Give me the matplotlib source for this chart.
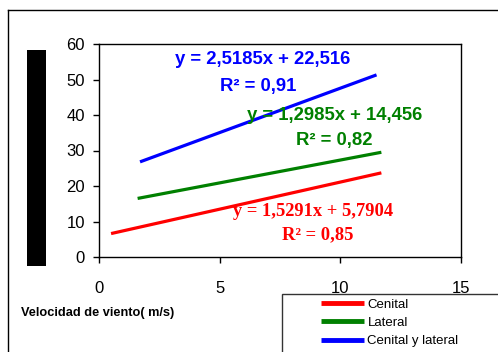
import matplotlib
matplotlib.use("Agg")
import matplotlib.pyplot as plt
from matplotlib.patches import Rectangle
from matplotlib.lines import Line2D

# Data (trend-line end points)
series = ["Cenital", "Lateral", "Cenital y lateral"]
colors = ["#ff0000", "#008000", "#0000ff"]
cenital_x = [0.5, 11.7]
cenital_y = [6.6, 23.7]
lateral_x = [1.6, 11.7]
lateral_y = [16.5, 29.5]
ambos_x = [1.7, 11.5]
ambos_y = [26.8, 51.3]
xticks = [0, 5, 10, 15]
yticks = [0, 10, 20, 30, 40, 50, 60]

eq_texts = ["y = 1,5291x + 5,7904", "y = 1,2985x + 14,456", "y = 2,5185x + 22,516"]
r2_texts = ["R² = 0,85", "R² = 0,82", "R² = 0,91"]

W, H = 498, 352
fig = plt.figure(figsize=(W / 100, H / 100), dpi=100)
fig.patch.set_facecolor("white")

def fx(px):
    return px / W

def fy(py):
    return 1 - py / H

ax = fig.add_axes([fx(99), fy(257), fx(461) - fx(99), fy(44) - fy(257)])
ax.set_xlim(0, 15)
ax.set_ylim(0, 60)
ax.set_xticks(xticks)
ax.set_yticks(yticks)
ax.tick_params(axis="both", direction="out", length=4, width=1, labelsize=12,
               colors="black")
ax.tick_params(axis="x", pad=13)
ax.tick_params(axis="y", pad=6)
for lab in ax.get_xticklabels() + ax.get_yticklabels():
    lab.set_family("Liberation Sans")
for s in ax.spines.values():
    s.set_linewidth(1)
    s.set_color("black")

xs = [cenital_x, lateral_x, ambos_x]
ys = [cenital_y, lateral_y, ambos_y]
handles = []
for name, c, x, y in zip(series, colors, xs, ys):
    h, = ax.plot(x, y, color=c, lw=2.3, label=name, solid_capstyle="butt")
    handles.append(h)

fs = 13.3
# Equation annotations (data coordinates)
ax.text(8.85, 12.7, eq_texts[0], color=colors[0], fontsize=fs, fontweight="bold",
        family="Liberation Serif", ha="center", va="center")
ax.text(9.05, 6.2, r2_texts[0], color=colors[0], fontsize=fs, fontweight="bold",
        family="Liberation Serif", ha="center", va="center")
ax.text(9.78, 40.0, eq_texts[1], color=colors[1], fontsize=fs, fontweight="bold",
        family="Liberation Sans", ha="center", va="center")
ax.text(9.76, 32.7, r2_texts[1], color=colors[1], fontsize=fs, fontweight="bold",
        family="Liberation Sans", ha="center", va="center")
ax.text(6.8, 55.5, eq_texts[2], color=colors[2], fontsize=fs, fontweight="bold",
        family="Liberation Sans", ha="center", va="center")
ax.text(6.6, 47.9, r2_texts[2], color=colors[2], fontsize=fs, fontweight="bold",
        family="Liberation Sans", ha="center", va="center")

# x-axis label
fig.text(fx(21), fy(313), "Velocidad de viento( m/s)", fontsize=9.2, fontweight="bold",
         family="Liberation Sans", ha="left", va="center")

# Black bar (y-axis title placeholder)
fig.patches.append(Rectangle((fx(27), fy(266)), fx(46) - fx(27), fy(50) - fy(266),
                             transform=fig.transFigure, facecolor="black",
                             edgecolor="none"))

# Outer chart frame
fig.lines.append(Line2D([fx(8), fx(8)], [fy(10), 0], transform=fig.transFigure,
                        color="black", lw=1))
fig.lines.append(Line2D([fx(8), 1], [fy(10), fy(10)], transform=fig.transFigure,
                        color="black", lw=1))

# Legend
fig.patches.append(Rectangle((fx(282), -0.05), 1.1 - fx(282), fy(294) + 0.05,
                             transform=fig.transFigure, facecolor="white",
                             edgecolor="#333333", lw=1, zorder=5))
leg = fig.legend(handles=handles, labels=series, loc="upper left",
                 bbox_to_anchor=(fx(318), fy(296)), bbox_transform=fig.transFigure,
                 frameon=False, handlelength=3.3, handletextpad=0.25,
                 labelspacing=0.45, borderaxespad=0, borderpad=0.2,
                 prop={"family": "Liberation Sans", "size": 9.5})
leg.set_zorder(6)
for ln in leg.get_lines():
    ln.set_linewidth(3.5)

fig.savefig("out.png", dpi=100, facecolor="white")
